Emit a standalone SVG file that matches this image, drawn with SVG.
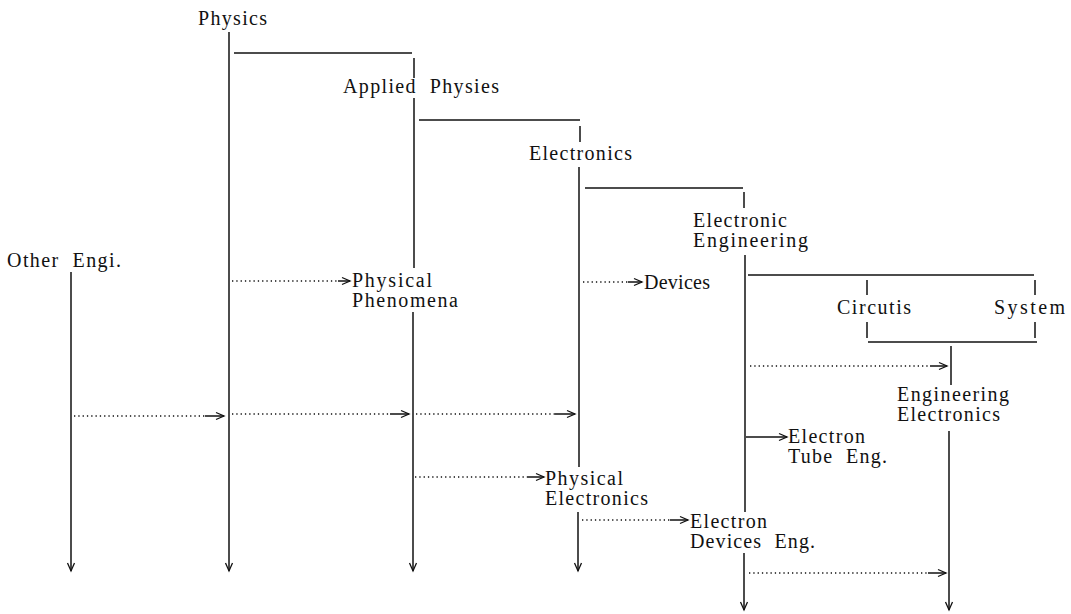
<svg xmlns="http://www.w3.org/2000/svg" width="1071" height="614" viewBox="0 0 1071 614">
<defs>
<marker id="ah" markerUnits="userSpaceOnUse" markerWidth="10" markerHeight="10" refX="8" refY="4" orient="auto" overflow="visible">
<path d="M0,0.5 L8,4 L0,7.5" fill="none" stroke="#111" stroke-width="1.3"/>
</marker>
</defs>
<style>
.s{stroke:#111;stroke-width:1.5;fill:none}
.d{stroke:#111;stroke-width:1.3;fill:none;stroke-dasharray:1.3 3}
.a{stroke:#111;stroke-width:1.5;fill:none;marker-end:url(#ah)}
</style>
<rect width="1071" height="614" fill="#fff"/>
<g id="connectors">
<path class="a" d="M229,32 V571"/>
<path class="s" d="M234,53 H412"/>
<path class="s" d="M414,58 V78"/>
<path class="s" d="M414,98 V268"/>
<path class="a" d="M413,312 V571"/>
<path class="s" d="M419,120 H580"/>
<path class="s" d="M580,126 V142"/>
<path class="s" d="M579,167 V467"/>
<path class="a" d="M578,512 V571"/>
<path class="s" d="M585,188 H743"/>
<path class="s" d="M744,192 V208"/>
<path class="s" d="M745,255 V512"/>
<path class="a" d="M744,553 V610"/>
<path class="s" d="M748,275 H1034"/>
<path class="s" d="M867,280 V295 M867,322 V338 M1035,280 V295 M1035,322 V338"/>
<path class="s" d="M868,342 H1037"/>
<path class="s" d="M951,346 V385"/>
<path class="a" d="M949,431 V610"/>
<path class="a" d="M71,272 V571"/>
<path class="d" d="M232,281 H338"/><path class="a" d="M338,281 H350"/>
<path class="d" d="M583,282 H628"/><path class="a" d="M628,282 H642"/>
<path class="d" d="M74,416 H205"/><path class="a" d="M205,416 H224"/>
<path class="d" d="M232,414 H390"/><path class="a" d="M390,414 H409"/>
<path class="d" d="M416,414 H555"/><path class="a" d="M555,414 H575"/>
<path class="d" d="M750,366 H930"/><path class="a" d="M930,366 H947"/>
<path class="a" d="M746,437 H787"/>
<path class="d" d="M415,477 H528"/><path class="a" d="M528,477 H544"/>
<path class="d" d="M582,520 H670"/><path class="a" d="M670,520 H688"/>
<path class="d" d="M749,573 H928"/><path class="a" d="M928,573 H946"/>
</g>
<g font-family="Liberation Serif, DejaVu Serif, serif" font-size="20" fill="#111">
<g id="physics"><text x="198" y="25" textLength="69">Physics</text></g>
<g id="applied-physics"><text x="343" y="93" textLength="156" xml:space="preserve">Applied  Physies</text></g>
<g id="electronics"><text x="529" y="160" textLength="103">Electronics</text></g>
<g id="electronic-engineering"><text x="693" y="227" textLength="94">Electronic</text><text x="693" y="247" textLength="115">Engineering</text></g>
<g id="other-engi"><text x="7" y="267" textLength="114" xml:space="preserve">Other  Engi.</text></g>
<g id="physical-phenomena"><text x="352" y="287" textLength="80">Physical</text><text x="352" y="307" textLength="106">Phenomena</text></g>
<g id="devices"><text x="644" y="289" textLength="66">Devices</text></g>
<g id="circutis"><text x="837" y="314" textLength="74">Circutis</text></g>
<g id="system"><text x="994" y="314" textLength="71">System</text></g>
<g id="engineering-electronics"><text x="897" y="401" textLength="112">Engineering</text><text x="897" y="421" textLength="103">Electronics</text></g>
<g id="electron-tube-eng"><text x="788" y="443" textLength="77">Electron</text><text x="788" y="463" textLength="99" xml:space="preserve">Tube  Eng.</text></g>
<g id="physical-electronics"><text x="545" y="485" textLength="78">Physical</text><text x="545" y="505" textLength="103">Electronics</text></g>
<g id="electron-devices-eng"><text x="690" y="528" textLength="77">Electron</text><text x="690" y="548" textLength="125" xml:space="preserve">Devices  Eng.</text></g>
</g>
</svg>
